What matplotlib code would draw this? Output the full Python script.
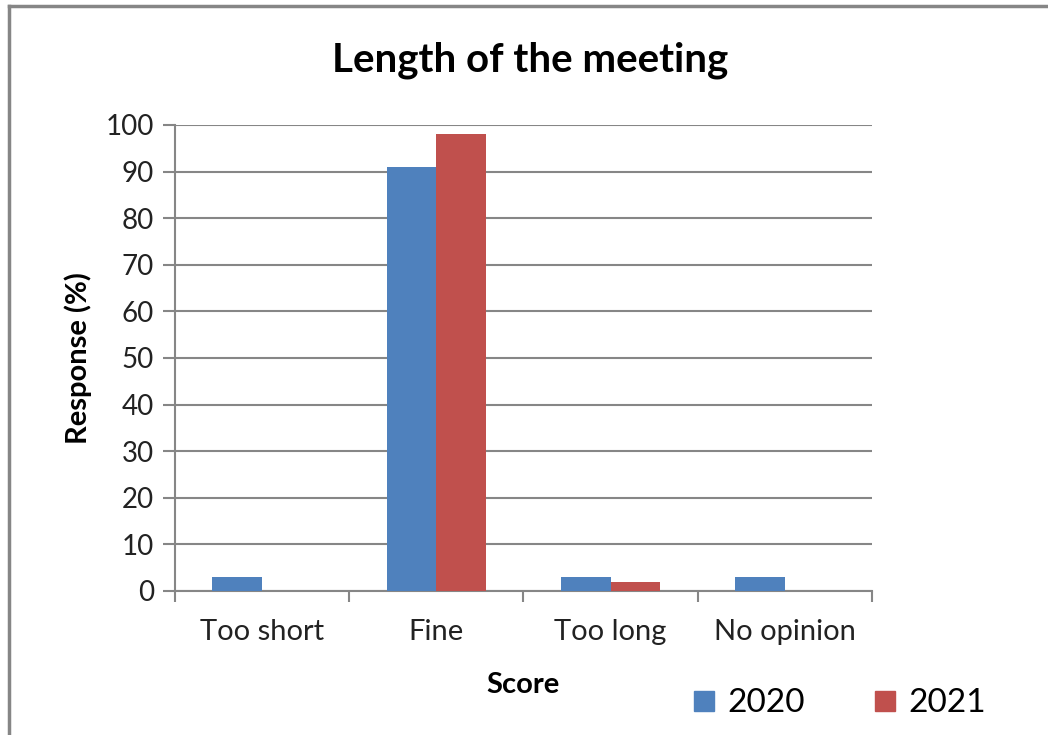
import numpy as np
import matplotlib.pyplot as plt
from matplotlib.lines import Line2D

plt.rcParams['font.family'] = ['Lato', 'DejaVu Sans']

categories = ['Too short', 'Fine', 'Too long', 'No opinion']
years = ['2020', '2021']
resp_2020 = [3, 91, 3, 3]
resp_2021 = [0, 98, 2, 0]

blue = '#4F81BD'
red = '#C0504D'
grey = '#868686'

fig = plt.figure(figsize=(10.48, 7.35), dpi=100)
ax = fig.add_axes([0.167, 0.196, 0.665, 0.634])

x = np.arange(len(categories))
w = 0.285
ax.bar(x - w/2, resp_2020, w, color=blue, label=years[0], zorder=3)
ax.bar(x + w/2, resp_2021, w, color=red, label=years[1], zorder=3)

ax.set_xlim(-0.5, len(categories) - 0.5)
ax.set_ylim(0, 100)
ax.set_yticks(np.arange(0, 101, 10))
ax.yaxis.grid(True, color=grey, linewidth=1.5, zorder=0)

ax.set_xticks(x)
ax.set_xticklabels(categories)
ax.set_xticks(np.arange(-0.5, len(categories)), minor=True)
ax.tick_params(axis='x', which='major', length=0, labelsize=21, pad=20, colors='#222222')
ax.tick_params(axis='x', which='minor', length=8, width=1.5, color=grey)
ax.tick_params(axis='y', length=9, width=1.5, color=grey, labelsize=20, labelcolor='#222222', pad=6)

for s in ['top', 'right']:
    ax.spines[s].set_visible(False)
for s in ['left', 'bottom']:
    ax.spines[s].set_color(grey)
    ax.spines[s].set_linewidth(1.5)

ax.set_ylabel('Response (%)', fontsize=21, fontweight='bold', labelpad=10)
ax.set_xlabel('Score', fontsize=21, fontweight='bold', labelpad=20)
fig.text(0.506, 0.918, 'Length of the meeting', ha='center', va='center',
         fontsize=29, fontweight='bold')

handles = [Line2D([], [], marker='s', linestyle='none', markersize=15, color=blue),
           Line2D([], [], marker='s', linestyle='none', markersize=15, color=red)]
fig.legend(handles, years, loc='center', bbox_to_anchor=(0.8, 0.043), ncol=2,
           frameon=False, fontsize=24, handlelength=0.8, handletextpad=0.3,
           columnspacing=2.0)

# chart area border (left and top visible)
fig.add_artist(Line2D([0.0085, 0.0085], [0, 0.992], color=grey, linewidth=2.5,
                      transform=fig.transFigure))
fig.add_artist(Line2D([0.0085, 1], [0.992, 0.992], color=grey, linewidth=2.5,
                      transform=fig.transFigure))

fig.savefig('out.png', dpi=100)
